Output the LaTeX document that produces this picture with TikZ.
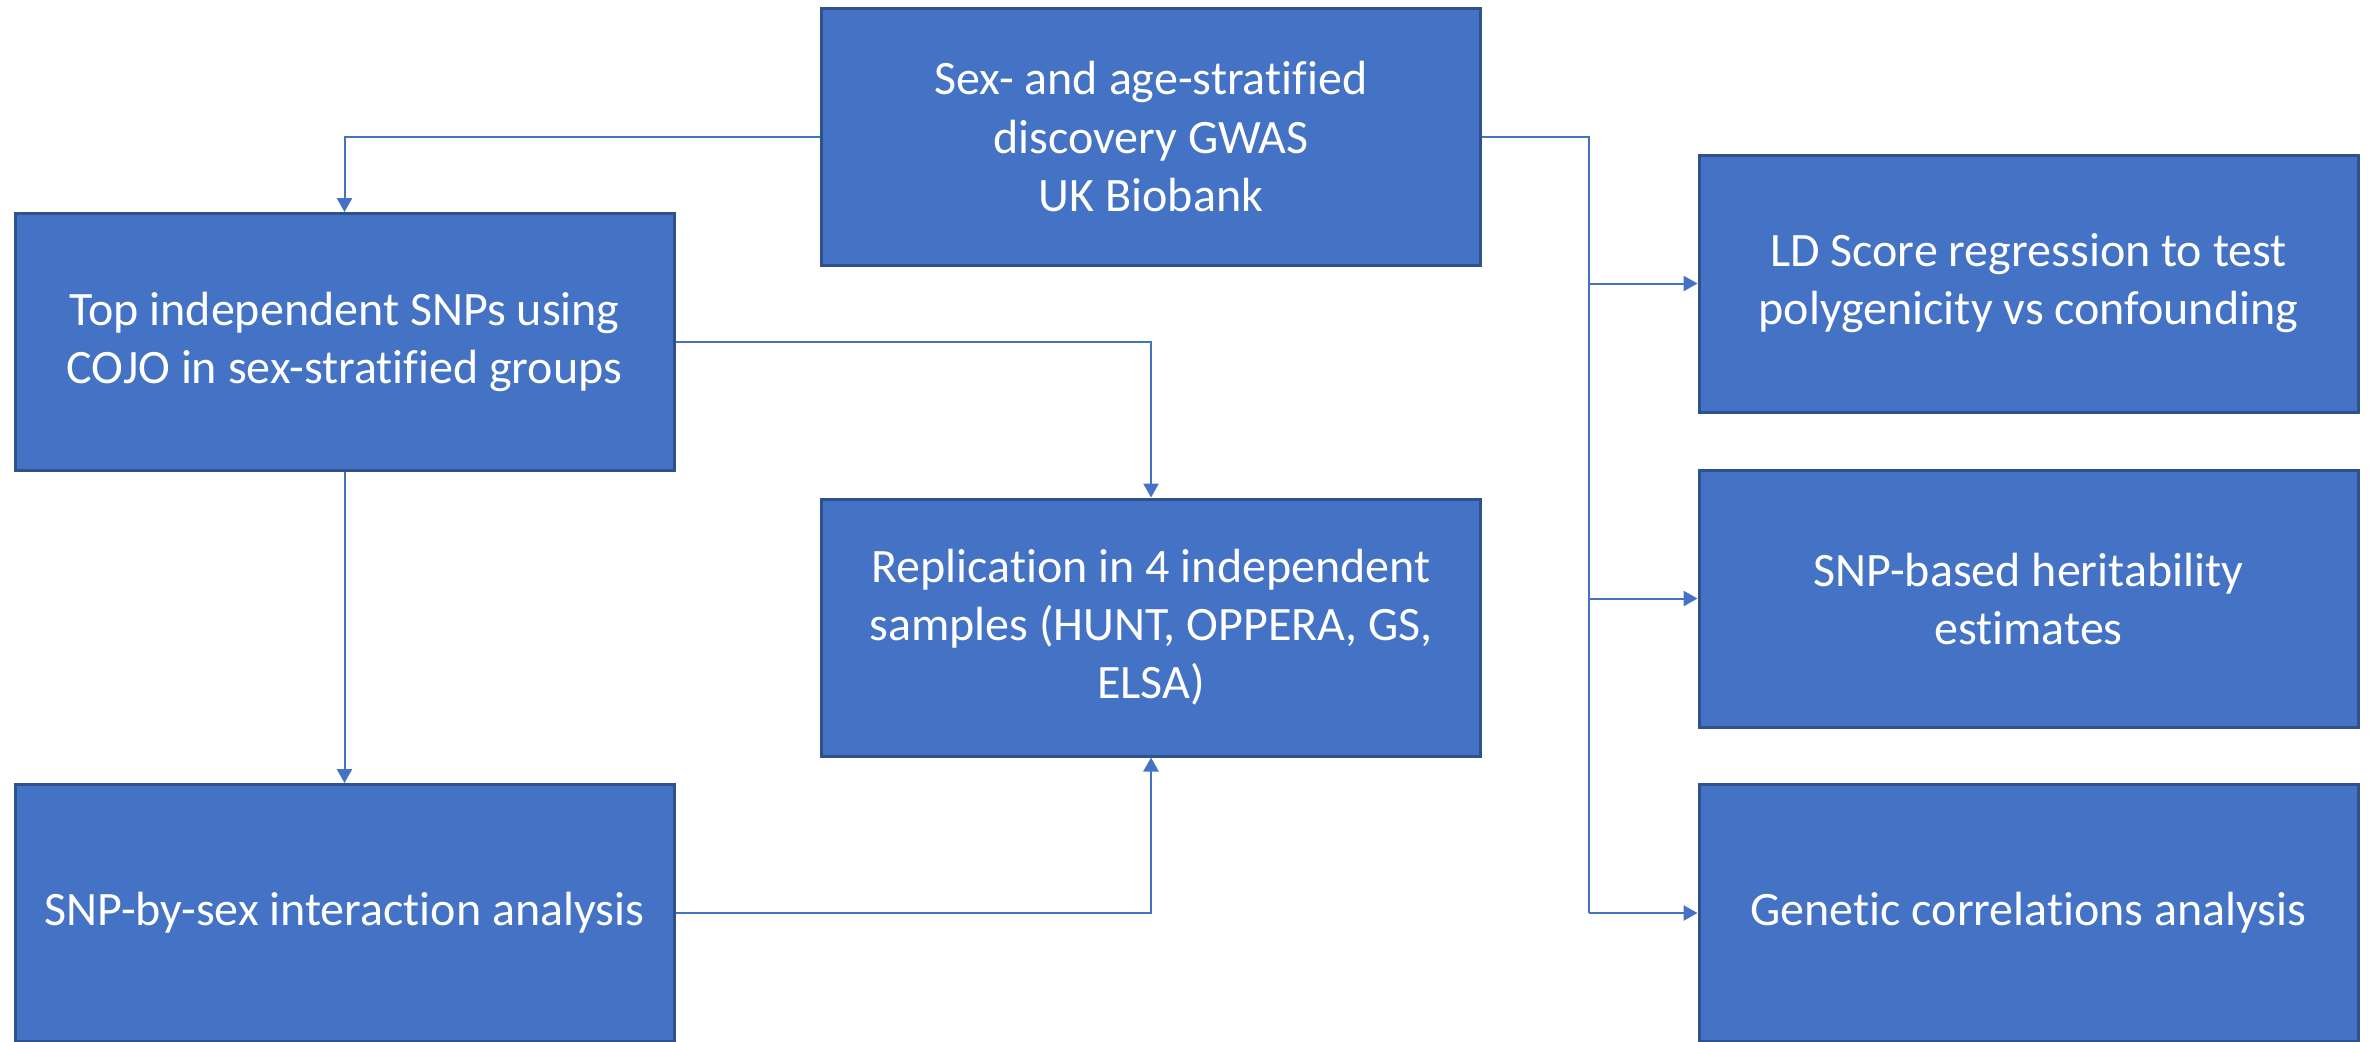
\documentclass[tikz,border=0pt]{standalone}
\usepackage{fontspec}
\setmainfont{Carlito}[Ligatures=NoCommon]
\usepackage{tikz}
\usetikzlibrary{arrows.meta}
\definecolor{boxfill}{RGB}{68,114,196}
\definecolor{boxline}{RGB}{47,82,143}

\begin{document}
\begin{tikzpicture}[x=0.25pt,y=0.25pt,yscale=-1,xscale=1,
  stage/.style={draw=boxline, line width=0.75pt, fill=boxfill, text=white,
    minimum width=164.75pt, minimum height=64.25pt, inner sep=0pt,
    align=center, font=\fontsize{12}{14.5}\selectfont},
  plain/.style={draw=boxfill, line width=0.5pt},
  link/.style={plain, -{Triangle[length=3.5pt,width=3.8pt]}}]
%set diagram left start at 0, and has height of 1041
\useasboundingbox (0,0) rectangle (2374,1041);

% Boxes
\node[stage] (gwas) at (1151,136.5) {Sex- and age-stratified\\discovery GWAS\\UK Biobank};
\node[stage] (cojo) at (344.5,342) {Top independent SNPs using\\COJO in sex-stratified groups};
\node[stage] (repl) at (1151,627.5) {Replication in 4 independent\\samples (HUNT, OPPERA, GS,\\ELSA)};
\node[stage] (inter) at (344.5,913) {SNP-by-sex interaction analysis};
\node[stage] (ldsc) at (2028.5,283.5) {LD Score regression to test\\polygenicity vs confounding};
\node[stage] (herit) at (2028.5,598.5) {SNP-based heritability\\estimates};
\node[stage] (gcorr) at (2028.5,913) {Genetic correlations analysis};

% Left side connectors
\draw[link] (gwas.west) -| (cojo.north);
\draw[link] (cojo.east) -| (repl.north);
\draw[link] (cojo.south) -- (inter.north);
\draw[link] (inter.east) -| (repl.south);

% Right side trunk
\coordinate (trunk) at (1589,0);
\draw[plain] (gwas.east) -| (trunk |- gcorr.west);
\draw[link] (trunk |- ldsc.west) -- (ldsc.west);
\draw[link] (trunk |- herit.west) -- (herit.west);
\draw[link] (trunk |- gcorr.west) -- (gcorr.west);

\end{tikzpicture}
\end{document}
